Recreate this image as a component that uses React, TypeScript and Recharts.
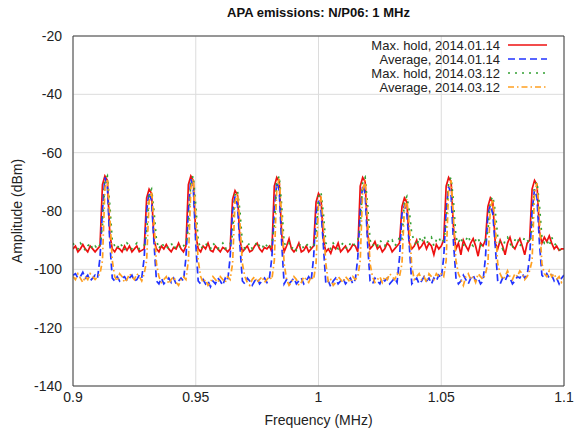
import React from 'react';
import { LineChart, Line, XAxis, YAxis, CartesianGrid, Label } from 'recharts';

// sweep grid of the analyser: 0.900 .. 1.100 MHz, 1 kHz per point
const START_MHZ = 0.9;
const STEP_MHZ = 0.001;

const X_TICKS = [0.9, 0.95, 1, 1.05, 1.1];
const Y_TICKS = [-140, -120, -100, -80, -60, -40, -20];
const Y_MINOR = Array.from({ length: 31 }, (_, i) => -140 + i * 4);

// Max. hold, 2014.01.14
const MAX_JAN = [
  -93, -92, -94, -93, -91.5, -93, -94, -92, -93, -94,
  -93, -92, -71, -68, -69.5, -88, -93, -94, -92.5, -93,
  -94, -92, -93.5, -92, -94, -93, -92, -94, -93.5, -93,
  -75.5, -72.5, -74, -90, -93, -94, -92, -93, -91.5, -93,
  -94, -92.5, -93, -91, -93, -94, -92, -71, -68, -69.5,
  -88, -93, -94, -92, -93, -91, -93.5, -94, -92, -93,
  -94, -92.5, -93, -94, -93, -76, -73, -74.5, -90, -94,
  -93, -92, -94, -93.5, -92, -91, -93, -94, -92.5, -93,
  -92, -94, -71.5, -68.5, -70, -88, -94, -92, -89.5, -93,
  -94, -93, -91, -94, -93.5, -92, -94, -93, -92, -77,
  -74, -75.5, -90, -94, -93, -94.5, -92, -93, -91, -94,
  -93, -92, -94, -93, -91.5, -92, -94, -71.5, -68.5, -70,
  -88, -93, -92, -90.5, -93, -92, -94, -93, -91, -92,
  -94, -93, -92, -91, -78.5, -75.5, -77, -91, -93, -92,
  -90, -93, -92, -90.5, -93, -91, -92, -95, -91.5, -93,
  -92, -90, -71.5, -68.5, -70, -86, -93, -91, -95, -90,
  -92, -93.5, -91, -89.5, -92, -95.5, -91, -92, -90, -78.5,
  -75.5, -77, -91, -93, -90, -92, -95, -91, -89, -92,
  -93, -91, -89.5, -92, -95, -91, -90, -72.5, -69.5, -71,
  -87, -91, -89, -90.5, -88.5, -91, -93, -92, -93.5, -93,
  -93,
];

// Average, 2014.01.14
const AVG_JAN = [
  -102, -101.5, -103, -102.5, -101, -103, -102, -104, -103, -102,
  -103, -96, -80, -68.5, -71.5, -91, -103, -104, -102.5, -104,
  -103, -102.5, -104, -103, -102, -104, -103.5, -102, -103, -96,
  -80, -73.5, -76.5, -91, -104, -105, -103, -105, -104, -103,
  -104.5, -103, -105, -104, -103, -104, -96, -80, -69, -72,
  -91, -104, -105, -103.5, -105, -104, -106, -104, -105, -103,
  -104, -105.5, -103, -104, -96, -80, -75, -78, -92, -104,
  -105, -103, -104, -105.5, -104, -103, -105, -104, -103, -104.5,
  -103, -96, -80, -70, -73, -91, -105, -103.5, -105, -104,
  -103, -105, -104, -103, -105, -104, -102.5, -104, -96, -81,
  -76.5, -79.5, -92, -105, -104, -106, -104, -103, -105, -104,
  -103, -105, -104, -103, -105, -103.5, -96, -80, -71, -74,
  -91, -104, -105, -103, -104, -105, -103, -104, -103, -105,
  -104, -103, -104.5, -96, -81, -78, -81, -92, -105, -104,
  -103, -105, -104, -102.5, -104, -103, -105, -103, -104, -102,
  -103, -96, -80, -71.5, -74.5, -91, -103, -105, -104, -102,
  -103.5, -105, -103, -102, -104, -103, -105, -104, -96, -81,
  -78, -81, -92, -104, -105, -103, -104, -102, -103, -105,
  -104, -102.5, -103, -101.5, -103, -102, -96, -80, -72.5, -75.5,
  -91, -102, -103, -101.5, -103, -102, -104, -103, -105, -103,
  -102,
];

// Max. hold, 2014.03.12
const MAX_MAR = [
  -91, -92.5, -93, -91, -92, -93.5, -92, -91, -93, -92,
  -93, -91.5, -85, -69.5, -68, -78, -90, -92, -93, -91,
  -92, -93.5, -91, -92, -93, -92, -91, -93, -92.5, -92,
  -88, -74, -72.5, -80, -90, -93, -91, -92, -93, -92,
  -91, -93, -92, -91.5, -93, -92, -91, -86, -69.5, -68,
  -78, -90, -93, -92, -91, -92.5, -93, -91, -92, -93,
  -92, -91, -93, -92, -91.5, -88, -74.5, -73, -80, -91,
  -93, -92, -91, -93, -92, -90.5, -92, -93, -91, -92,
  -93, -91, -85, -70, -68, -78, -91, -92, -91, -93,
  -92, -93.5, -92, -91, -93, -92, -91, -93, -92, -89,
  -75, -73.5, -81, -91, -92, -93, -91, -92, -93, -92,
  -91, -92.5, -93, -91, -92, -91, -90, -86, -70, -68.5,
  -78, -90, -92, -91, -92, -90, -91, -92, -90, -91,
  -90, -92, -91, -89, -90, -76.5, -75, -80, -88, -90,
  -92, -89, -91, -88.5, -91, -90, -89, -92, -90, -89,
  -91, -90, -85, -70, -68.5, -77, -89, -91, -89, -92,
  -90, -88.5, -91, -92, -90, -89, -92, -91, -90, -87,
  -76.5, -75, -80, -89, -91, -93, -90, -89, -91, -93,
  -90, -89, -92, -91, -89, -90, -91, -86, -71.5, -70,
  -78, -89, -91, -90, -92, -89, -91, -92, -93, -94,
  -94,
];

// Average, 2014.03.12
const AVG_MAR = [
  -102.5, -103.5, -101.5, -103, -104.5, -102.5, -103.5, -101.5, -102.5, -103.5,
  -102.5, -101.5, -97, -72, -69, -82, -97, -102.5, -104, -101.5,
  -102.5, -104.5, -103.5, -101.5, -102.5, -103.5, -101.5, -102.5, -104, -101.5,
  -97, -76.5, -73.5, -84, -98, -102.5, -104.5, -103.5, -102.5, -105,
  -103.5, -102.5, -104.5, -105.5, -103.5, -102.5, -103.5, -97, -72, -69,
  -82, -97, -102.5, -104.5, -103.5, -105.5, -104.5, -102.5, -103.5, -104.5,
  -102.5, -103.5, -104.5, -102.5, -103.5, -98, -77, -74, -84, -98,
  -102.5, -104.5, -105.5, -103.5, -102.5, -104.5, -103.5, -102.5, -104.5, -103.5,
  -102.5, -103.5, -97, -72, -69, -82, -98, -103.5, -105.5, -104.5,
  -102.5, -103.5, -105.5, -104.5, -102.5, -103.5, -104.5, -102.5, -103.5, -98,
  -78, -75, -85, -98, -104.5, -103.5, -105.5, -104.5, -102.5, -103.5,
  -104.5, -102.5, -103.5, -104.5, -102.5, -103.5, -102.5, -97, -72.5, -69.5,
  -83, -98, -102.5, -104.5, -103.5, -102.5, -104.5, -102.5, -103.5, -101.5,
  -102.5, -103.5, -101.5, -102.5, -98, -79, -76, -85, -99, -103.5,
  -102.5, -101.5, -103.5, -102.5, -104.5, -101.5, -102.5, -103.5, -101.5, -102.5,
  -101.5, -102.5, -97, -72.5, -69.5, -83, -97, -101.5, -103.5, -105.5,
  -102.5, -101.5, -103.5, -102.5, -104.5, -101.5, -102.5, -103.5, -101.5, -98,
  -79, -76, -85, -98, -101.5, -103.5, -102.5, -100.5, -102.5, -103.5,
  -101.5, -102.5, -100.5, -101.5, -103.5, -102.5, -100.5, -97, -73.5, -70.5,
  -83, -98, -101.5, -102.5, -100.5, -102.5, -101.5, -103.5, -102.5, -104.5,
  -103.5,
];

const SERIES = [
  { key: 'maxJan', name: 'Max. hold, 2014.01.14', color: '#ee1111', dash: undefined },
  { key: 'avgJan', name: 'Average, 2014.01.14', color: '#2233ff', dash: '7 4' },
  { key: 'maxMar', name: 'Max. hold, 2014.03.12', color: '#33a033', dash: '2 5' },
  { key: 'avgMar', name: 'Average, 2014.03.12', color: '#ffa020', dash: '6 3 1.5 3' },
];

const rows = MAX_JAN.map((v, i) => ({
  f: +(START_MHZ + i * STEP_MHZ).toFixed(3),
  maxJan: v,
  avgJan: AVG_JAN[i],
  maxMar: MAX_MAR[i],
  avgMar: AVG_MAR[i],
}));

const FONT = '"Liberation Sans", Arial, Helvetica, sans-serif';
const AXIS = '#404040';
const W = 574;
const H = 430;
const PLOT = { left: 73, right: 564, top: 36, bottom: 386 };

const fmtX = (v: number) => String(+v.toFixed(2));

export default function App() {
  return (
    <div style={{ position: 'absolute', left: 0, top: 0, width: W, height: H, background: '#fff', fontFamily: FONT }}>
      <div style={{ position: 'absolute', top: 5, left: PLOT.left, width: PLOT.right - PLOT.left, textAlign: 'center', fontWeight: 'bold', fontSize: 13, color: '#111' }}>
        APA emissions: N/P06: 1 MHz
      </div>
      <LineChart
        width={W}
        height={H}
        data={rows}
        margin={{ top: PLOT.top, right: W - PLOT.right, bottom: 0, left: 0 }}
        style={{ fontFamily: FONT }}
      >
        <CartesianGrid stroke="#dcdcdc" strokeWidth={1} />
        <XAxis
          dataKey="f"
          type="number"
          domain={[0.9, 1.1]}
          ticks={X_TICKS}
          tickFormatter={fmtX}
          allowDataOverflow
          height={H - PLOT.bottom}
          tickLine={false}
          tickSize={4}
          tickMargin={2}
          stroke={AXIS}
          tick={{ fill: '#222', fontSize: 14 }}
        >
          <Label value="Frequency (MHz)" position="insideBottom" offset={5} style={{ fill: '#222', fontSize: 14 }} />
        </XAxis>
        <XAxis xAxisId="bt" type="number" domain={[0.9, 1.1]} ticks={X_TICKS} allowDataOverflow mirror orientation="bottom" tick={false} tickSize={7} axisLine={false} stroke={AXIS} />
        <XAxis xAxisId="top" type="number" domain={[0.9, 1.1]} ticks={X_TICKS} allowDataOverflow mirror orientation="top" tick={false} tickSize={7} stroke={AXIS} />
        <YAxis
          type="number"
          domain={[-140, -20]}
          ticks={Y_TICKS}
          allowDataOverflow
          width={PLOT.left}
          tickLine={false}
          tickSize={6}
          tickMargin={5}
          stroke={AXIS}
          tick={{ fill: '#222', fontSize: 14 }}
        >
          <Label value="Amplitude (dBm)" position="insideLeft" angle={-90} offset={17} style={{ fill: '#222', fontSize: 14, textAnchor: 'middle' }} />
        </YAxis>
        <YAxis yAxisId="lmaj" type="number" domain={[-140, -20]} ticks={Y_TICKS} allowDataOverflow mirror orientation="left" tick={false} tickSize={7} axisLine={false} stroke={AXIS} />
        <YAxis yAxisId="lmin" type="number" domain={[-140, -20]} ticks={Y_MINOR} allowDataOverflow mirror orientation="left" tick={false} tickSize={4} axisLine={false} stroke={AXIS} />
        <YAxis yAxisId="rmaj" type="number" domain={[-140, -20]} ticks={Y_TICKS} allowDataOverflow mirror orientation="right" tick={false} tickSize={7} stroke={AXIS} />
        <YAxis yAxisId="rmin" type="number" domain={[-140, -20]} ticks={Y_MINOR} allowDataOverflow mirror orientation="right" tick={false} tickSize={4} axisLine={false} stroke={AXIS} />
        {SERIES.map((s) => (
          <Line
            key={s.key}
            dataKey={s.key}
            name={s.name}
            type="linear"
            stroke={s.color}
            strokeWidth={1.7}
            strokeDasharray={s.dash}
            dot={false}
            activeDot={false}
            isAnimationActive={false}
          />
        ))}
      </LineChart>
      <svg width={W} height={H} style={{ position: 'absolute', left: 0, top: 0, pointerEvents: 'none' }}>
        {SERIES.map((s, i) => {
          const y = 45 + i * 14;
          return (
            <g key={s.key}>
              <text x={500} y={y} dy="0.35em" textAnchor="end" fontSize={13} fill="#222" fontFamily={FONT}>{s.name}</text>
              <line x1={508} x2={547} y1={y} y2={y} stroke={s.color} strokeWidth={1.5} strokeDasharray={s.dash} />
            </g>
          );
        })}
      </svg>
    </div>
  );
}
